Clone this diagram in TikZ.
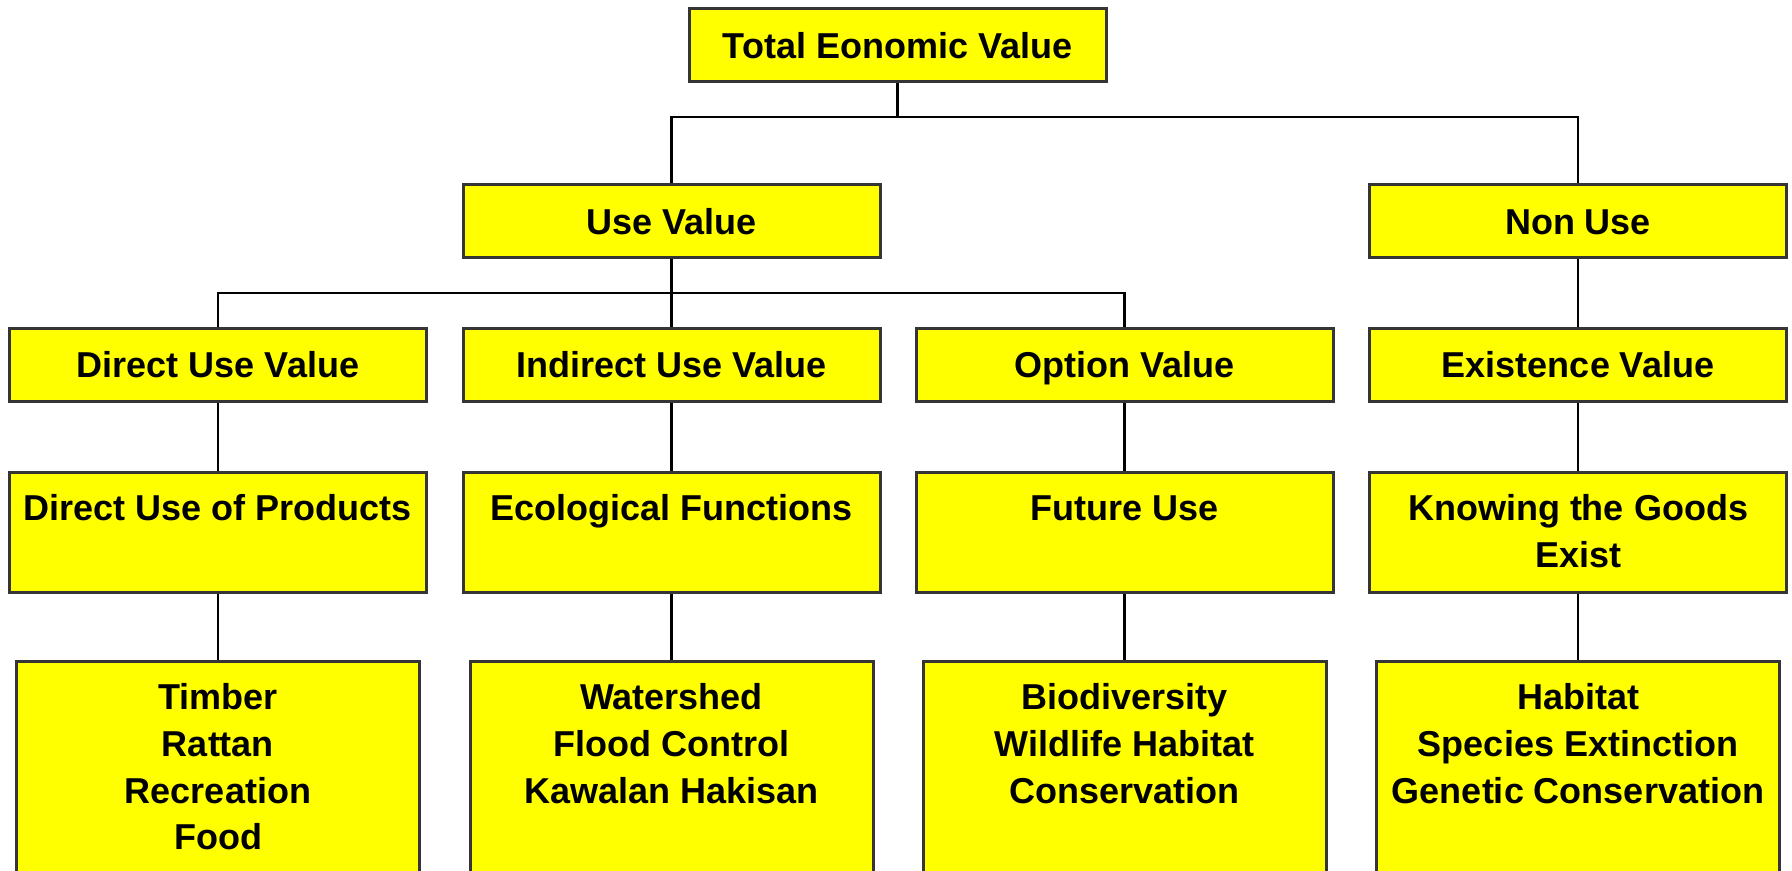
\documentclass[tikz,border=0pt]{standalone}
\usepackage{fontspec}
\setmainfont{Liberation Sans}
\usepackage{tikz}
\usetikzlibrary{calc}

\definecolor{boxfill}{HTML}{FFFF00}
\definecolor{boxline}{HTML}{353535}

% top-aligned stack of centred lines
\newcommand{\cellrows}[1]{\begin{tabular}[t]{@{}c@{}}#1\end{tabular}}

\begin{document}
\begin{tikzpicture}[
    x=0.5pt,
    y=-0.5pt,
    box/.style={draw=boxline, fill=boxfill, line width=1.5pt, inner sep=0pt, minimum width=208.5pt, minimum height=36.5pt, text height=13pt, text depth=0pt, font=\fontsize{18pt}{23.4pt}\selectfont\bfseries},
    tallbox/.style={box, anchor=north, minimum height=0pt, text height=24pt, text depth=36pt},
    listbox/.style={tallbox, minimum width=201.5pt, text depth=96pt},
    link/.style={line width=1.2pt}
]
\useasboundingbox (0,0) rectangle (1792,871);

% rows of the value tree
\node[box] (tev) at (897.5,45.5) {Total Eonomic Value};

\node[box] (use) at (671.5,221.5) {Use Value};
\node[box] (nonuse) at (1578,221.5) {Non Use};

\node[box] (direct) at (218,365) {Direct Use Value};
\node[box] (indirect) at (671.5,365) {Indirect Use Value};
\node[box] (option) at (1124.5,365) {Option Value};
\node[box] (existence) at (1578,365) {Existence Value};

\node[tallbox] (products) at (218,471) {\cellrows{Direct Use of Products}};
\node[tallbox] (ecofunc) at (671.5,471) {\cellrows{Ecological Functions}};
\node[tallbox] (future) at (1124.5,471) {\cellrows{Future Use}};
\node[tallbox] (knowing) at (1578,471) {\cellrows{Knowing the Goods\\Exist}};

\node[listbox] (directlist) at (218,660) {\cellrows{Timber\\Rattan\\Recreation\\Food}};
\node[listbox] (ecolist) at (671.5,660) {\cellrows{Watershed\\Flood Control\\Kawalan Hakisan}};
\node[listbox] (futurelist) at (1124.5,660) {\cellrows{Biodiversity\\Wildlife Habitat\\Conservation}};
\node[listbox] (knowlist) at (1578,660) {\cellrows{Habitat\\Species Extinction\\Genetic Conservation}};

% branching rails
\coordinate (railA) at (0,117);
\coordinate (railB) at (0,293);

\draw[link] (tev.south) -- (tev.south |- railA);
\draw[link] (use.north) -- (use.north |- railA) -- (nonuse.north |- railA) -- (nonuse.north);
\draw[link] (use.south) -- (indirect.north);
\draw[link] (direct.north) -- (direct.north |- railB) -- (option.north |- railB) -- (option.north);
\draw[link] (nonuse.south) -- (existence.north);

\draw[link] (direct.south) -- (products.north);
\draw[link] (indirect.south) -- (ecofunc.north);
\draw[link] (option.south) -- (future.north);
\draw[link] (existence.south) -- (knowing.north);

\draw[link] (products.south) -- (directlist.north);
\draw[link] (ecofunc.south) -- (ecolist.north);
\draw[link] (future.south) -- (futurelist.north);
\draw[link] (knowing.south) -- (knowlist.north);
\end{tikzpicture}
\end{document}
